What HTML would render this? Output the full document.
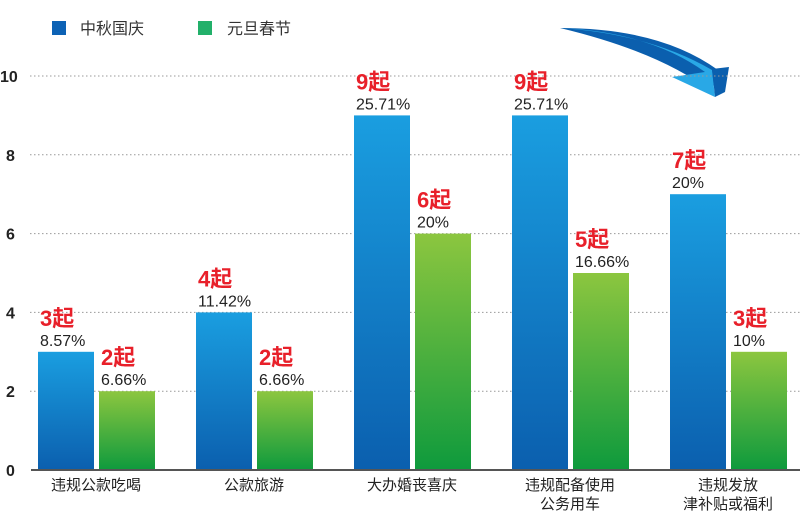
<!DOCTYPE html>
<html><head><meta charset="utf-8"><style>
body{margin:0;background:#fff;width:800px;height:515px;overflow:hidden}
svg{display:block;font-family:"Liberation Sans","Noto Sans CJK SC",sans-serif}
</style></head><body>
<svg id="chart" width="800" height="515">
<defs>
<linearGradient id="gb" x1="0" y1="0" x2="0" y2="1"><stop offset="0" stop-color="#1a9ee0"/><stop offset="1" stop-color="#0b5fae"/></linearGradient>
<linearGradient id="gg" x1="0" y1="0" x2="0" y2="1"><stop offset="0" stop-color="#8cc63f"/><stop offset="1" stop-color="#0e9a3d"/></linearGradient>
</defs>
<g>
<rect x="52" y="21" width="14" height="14" fill="#0d62b5"/>
<text x="80" y="34" font-size="16" fill="#333">中秋国庆</text>
<rect x="198" y="21" width="14" height="14" fill="#22b06a"/>
<text x="227" y="34" font-size="16" fill="#333">元旦春节</text>
</g>
<g>
<path d="M560 28 Q660 28 718 70 L712 92 Q660 52 560 28 Z" fill="#0b5fae"/>
<path d="M560 28 Q650 32 705 72 L672 77 L715 97 L712 70 Q650 34 560 28 Z" fill="#29a8e6"/>
<path d="M712 69 L729 67 L725 92 L715 97 Z" fill="#0b5fae"/>
</g>
<g id="grid"></g><g id="bars"></g>
<line x1="31" y1="470" x2="800" y2="470" stroke="#555" stroke-width="2"/>
</svg>
<script>
const categories=[["违规公款吃喝"],["公款旅游"],["大办婚丧喜庆"],["违规配备使用","公务用车"],["违规发放","津补贴或福利"]];
const midAutumn=[3,4,9,9,7];
const newYear=[2,2,6,5,3];
const midAutumnPct=["8.57%","11.42%","25.71%","25.71%","20%"];
const newYearPct=["6.66%","6.66%","20%","16.66%","10%"];
const yTicks=[0,2,4,6,8,10];
const NS="http://www.w3.org/2000/svg";
const y=v=>470-v*39.4;
const gx=i=>38+i*158;
function mk(tag,attrs,parent,txt){const e=document.createElementNS(NS,tag);for(const k in attrs)e.setAttribute(k,attrs[k]);if(txt!=null)e.textContent=txt;parent.appendChild(e);return e;}
const grid=document.getElementById('grid'),bars=document.getElementById('bars');
yTicks.forEach(t=>{
  if(t>0){const l=mk('line',{x1:30,x2:800,y1:y(t),y2:y(t),stroke:'#999','stroke-dasharray':'1.5 2.5'},grid);
  
  }
  const tx=mk('text',{x:t==10?0:6,y:y(t)+6,'font-size':16,'font-weight':'bold',fill:'#222'},grid,String(t));
  
  
});
function bar(x,v,fill,cnt,pct,name){
  const r=mk('rect',{x:x,y:y(v),width:56,height:470-y(v),fill:fill},bars);
  
  
  const c=mk('text',{x:x+2,y:y(v)-26,'font-size':22,'font-weight':'bold',fill:'#e8202a'},bars,cnt+'起');
  
  
  const p=mk('text',{x:x+2,y:y(v)-6,'font-size':16,fill:'#222'},bars,pct);
  
  
}
categories.forEach((c,i)=>{
  bar(gx(i),midAutumn[i],'url(#gb)',midAutumn[i],midAutumnPct[i],'bar-mid-autumn-'+i);
  bar(gx(i)+61,newYear[i],'url(#gg)',newYear[i],newYearPct[i],'bar-new-year-'+i);
  c.forEach((line,j)=>{
    const t=mk('text',{x:gx(i)+58,y:490+j*19,'font-size':15,fill:'#222','text-anchor':'middle'},bars,line);
    
    
  });
});
</script>
</body></html>
